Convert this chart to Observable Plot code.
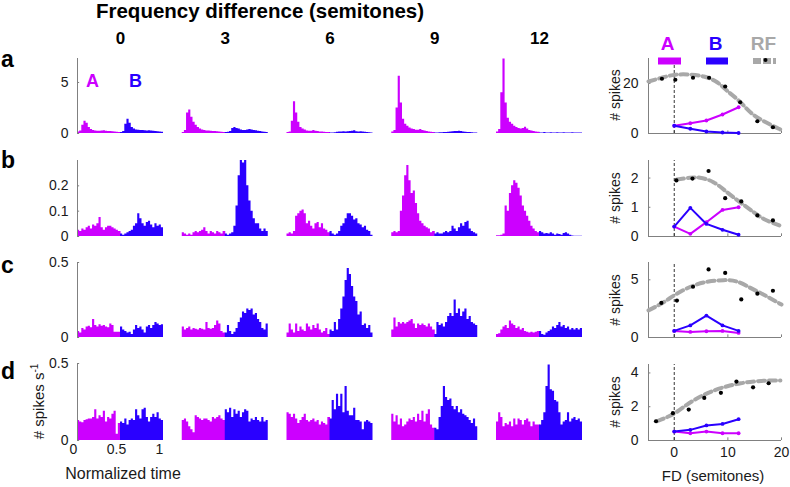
<!DOCTYPE html>
<html><head><meta charset="utf-8">
<script src="https://cdn.jsdelivr.net/npm/d3@7"></script>
<script src="https://cdn.jsdelivr.net/npm/@observablehq/plot@0.6"></script>
<style>
body{margin:0;background:#fff;}
#fig{position:relative;width:790px;height:487px;background:#fff;overflow:hidden;font-family:"Liberation Sans",Arial,Helvetica,sans-serif;}
#fig > svg{position:absolute;}
</style></head><body><div id="fig"></div>
<script>
// ---------- data ----------
const fd = [0, 3, 6, 9, 12];            // frequency difference (semitones), one PSTH column each
const psthParts = ["A", "B"];

// PSTH bin heights (20 bins for A half, 20 bins for B half), one array per FD column
const aA = [
 [0.15,0.25,0.8,1.2,1.0,0.6,0.4,0.3,0.25,0.22,0.22,0.25,0.28,0.22,0.2,0.2,0.18,0.15,0.12,0.1],
 [0.1,0.3,2.0,2.3,1.6,1.1,0.8,0.6,0.45,0.35,0.3,0.25,0.25,0.22,0.2,0.2,0.18,0.15,0.12,0.1],
 [0.1,0.15,1.2,3.1,2.0,1.1,0.6,0.45,0.35,0.25,0.22,0.22,0.3,0.22,0.2,0.15,0.15,0.12,0.1,0.1],
 [0.15,0.3,2.5,5.6,3.0,1.4,0.9,0.7,0.55,0.45,0.38,0.32,0.32,0.4,0.3,0.25,0.2,0.15,0.12,0.1],
 [0.15,0.4,4.0,7.3,3.0,1.5,1.1,0.9,0.7,0.6,0.5,0.45,0.5,0.62,0.45,0.3,0.25,0.2,0.15,0.12]
];
const aB = [
 [0.1,0.2,0.9,1.4,1.0,0.6,0.45,0.35,0.32,0.3,0.3,0.28,0.25,0.28,0.25,0.22,0.2,0.18,0.15,0.12],
 [0.1,0.12,0.2,0.5,0.6,0.5,0.45,0.35,0.3,0.3,0.35,0.4,0.35,0.3,0.28,0.22,0.2,0.15,0.12,0.1],
 [0.05,0.05,0.08,0.12,0.15,0.15,0.18,0.15,0.18,0.2,0.22,0.28,0.18,0.15,0.18,0.15,0.12,0.1,0.08,0.05],
 [0.05,0.05,0.08,0.08,0.1,0.1,0.12,0.15,0.18,0.2,0.2,0.22,0.2,0.15,0.12,0.1,0.1,0.08,0.06,0.05],
 [0.05,0.05,0.1,0.05,0.05,0.08,0.05,0.05,0.08,0.05,0.05,0.08,0.05,0.05,0.05,0.08,0.05,0.05,0.05,0.05]
];
const bA = [
 [0.025,0.02,0.03,0.025,0.035,0.04,0.03,0.045,0.04,0.05,0.075,0.035,0.025,0.035,0.04,0.04,0.035,0.03,0.025,0.02],
 [0.015,0.01,0.005,0.01,0.005,0.015,0.02,0.015,0.02,0.025,0.035,0.02,0.01,0.02,0.015,0.01,0.02,0.015,0.01,0.02],
 [0.01,0.015,0.01,0.02,0.08,0.09,0.1,0.105,0.09,0.05,0.06,0.04,0.03,0.05,0.055,0.035,0.05,0.03,0.025,0.015],
 [0.015,0.02,0.015,0.02,0.1,0.16,0.24,0.28,0.22,0.17,0.18,0.13,0.09,0.06,0.05,0.04,0.035,0.03,0.015,0.02],
 [0.003,0.003,0.005,0.01,0.12,0.1,0.17,0.2,0.22,0.21,0.19,0.16,0.12,0.1,0.08,0.06,0.04,0.03,0.02,0.015]
];
const bB = [
 [0.01,0.005,0.01,0.015,0.02,0.025,0.04,0.05,0.09,0.07,0.05,0.04,0.055,0.06,0.045,0.035,0.05,0.04,0.045,0.035],
 [0.01,0.005,0.01,0.015,0.04,0.12,0.24,0.3,0.29,0.3,0.2,0.14,0.1,0.07,0.05,0.05,0.03,0.02,0.03,0.02],
 [0.02,0.01,0.005,0.01,0.02,0.04,0.05,0.07,0.09,0.09,0.08,0.065,0.07,0.05,0.045,0.035,0.04,0.025,0.02,0.005],
 [0.01,0.015,0.01,0.01,0.015,0.02,0.015,0.02,0.04,0.03,0.02,0.035,0.05,0.04,0.055,0.06,0.03,0.02,0.015,0.01],
 [0.02,0.015,0.01,0.012,0.01,0.015,0.01,0.005,0.01,0.008,0.005,0.012,0.015,0.01,0.005,0.002,0.001,0.001,0.001,0.001]
];
const cA = [
 [0.04,0.03,0.06,0.05,0.07,0.075,0.065,0.12,0.08,0.07,0.085,0.075,0.08,0.07,0.065,0.09,0.08,0.035,0.035,0.035],
 [0.07,0.05,0.06,0.07,0.05,0.06,0.055,0.05,0.06,0.055,0.05,0.1,0.06,0.055,0.06,0.08,0.11,0.09,0.04,0.03],
 [0.03,0.09,0.05,0.03,0.09,0.04,0.07,0.05,0.04,0.09,0.07,0.05,0.08,0.06,0.09,0.05,0.03,0.04,0.06,0.02],
 [0.05,0.13,0.07,0.1,0.09,0.1,0.09,0.1,0.11,0.12,0.09,0.06,0.09,0.08,0.09,0.08,0.07,0.09,0.07,0.05],
 [0.02,0.025,0.05,0.07,0.08,0.06,0.11,0.09,0.08,0.06,0.07,0.05,0.06,0.04,0.035,0.03,0.035,0.03,0.035,0.04]
];
const cB = [
 [0.07,0.05,0.04,0.03,0.035,0.02,0.05,0.08,0.06,0.07,0.05,0.03,0.07,0.08,0.06,0.08,0.1,0.09,0.08,0.085],
 [0.03,0.08,0.04,0.02,0.035,0.06,0.1,0.13,0.17,0.16,0.19,0.18,0.19,0.15,0.16,0.12,0.1,0.06,0.05,0.09],
 [0.05,0.04,0.1,0.05,0.12,0.19,0.27,0.38,0.46,0.42,0.34,0.27,0.24,0.15,0.17,0.08,0.09,0.06,0.08,0.03],
 [0.02,0.1,0.08,0.09,0.07,0.1,0.14,0.16,0.14,0.25,0.16,0.19,0.14,0.17,0.19,0.12,0.14,0.1,0.09,0.08],
 [0.04,0.02,0.015,0.03,0.04,0.05,0.07,0.06,0.08,0.1,0.07,0.08,0.06,0.07,0.05,0.06,0.05,0.06,0.05,0.06]
];
const dA = [
 [0.13,0.12,0.115,0.13,0.135,0.14,0.14,0.15,0.2,0.14,0.16,0.15,0.19,0.12,0.15,0.14,0.17,0.19,0.04,0.11],
 [0.13,0.14,0.12,0.09,0.07,0.05,0.16,0.15,0.14,0.13,0.14,0.14,0.13,0.12,0.15,0.14,0.15,0.16,0.14,0.13],
 [0.18,0.17,0.15,0.17,0.14,0.11,0.13,0.15,0.17,0.13,0.12,0.13,0.14,0.12,0.13,0.1,0.12,0.11,0.1,0.15],
 [0.17,0.12,0.16,0.1,0.14,0.09,0.1,0.12,0.14,0.13,0.15,0.12,0.17,0.13,0.19,0.12,0.17,0.2,0.1,0.08],
 [0.12,0.18,0.15,0.09,0.11,0.1,0.12,0.09,0.14,0.1,0.14,0.13,0.1,0.13,0.14,0.12,0.09,0.12,0.1,0.1]
];
const dB = [
 [0.12,0.11,0.14,0.1,0.13,0.14,0.13,0.2,0.16,0.14,0.2,0.21,0.15,0.12,0.15,0.17,0.15,0.18,0.14,0.13],
 [0.2,0.18,0.21,0.15,0.2,0.17,0.19,0.15,0.18,0.2,0.19,0.12,0.14,0.13,0.15,0.13,0.12,0.15,0.12,0.13],
 [0.14,0.26,0.2,0.3,0.22,0.3,0.18,0.35,0.19,0.16,0.16,0.21,0.13,0.13,0.12,0.07,0.12,0.13,0.12,0.11],
 [0.08,0.07,0.15,0.22,0.35,0.28,0.26,0.27,0.22,0.2,0.22,0.18,0.2,0.17,0.16,0.15,0.13,0.11,0.14,0.09],
 [0.1,0.13,0.18,0.35,0.49,0.33,0.32,0.26,0.25,0.18,0.1,0.12,0.13,0.18,0.12,0.14,0.15,0.13,0.14,0.12]
];
const psthYTicksA = [0, 5], psthYTicksB = [0, 0.1, 0.2], psthYTicksC = [0, 0.5], psthYTicksD = [0, 0.5];
const timeTicks = [0, 0.5, 1];

// Right column: spike counts vs FD
const aCountA = [3.1, 4.1, 5.2, 7.6, 10.5], aCountB = [3.1, 1.9, 0.8, 0.4, 0.2];
const bCountA = [0.34, 0.09, 0.49, 0.91, 1.0], bCountB = [0.34, 0.98, 0.43, 0.23, 0.06];
const cCountA = [0.57, 0.48, 0.54, 0.57, 0.4], cCountB = [0.57, 1.05, 1.9, 1.05, 0.57];
const dCountA = [0.53, 0.43, 0.53, 0.43, 0.43], dCountB = [0.53, 0.63, 0.89, 0.98, 1.26];
// receptive field (black dots) and fitted RF (grey dashed)
const aRfX = [-2.3, 0.2, 3.5, 6.5, 9.5, 12.3, 15.5, 18.4], aRfY = [21.9, 21.5, 22.3, 22.3, 18.8, 12.5, 4.9, 2.5];
const bRfX = [0.4, 3.4, 6.4, 9.5, 12.5, 15.5, 18.4], bRfY = [1.92, 1.98, 2.24, 1.31, 1.2, 0.72, 0.55];
const cRfX = [-2.4, 0.5, 3.5, 6.4, 9.5, 12.5, 15.5, 18.4], cRfY = [3.0, 3.2, 4.4, 5.9, 5.6, 3.3, 3.8, 4.05];
const dRfX = [-3.4, -0.25, 2.7, 5.6, 8.7, 11.6, 14.7, 17.6], dRfY = [1.14, 1.62, 1.83, 2.52, 2.82, 3.49, 3.15, 3.39];
const aFitX = [-4.8, -2.0, 0.2, 2.7, 5.5, 8.0, 9.8, 12.0, 14.2, 16.7, 19.5, 20], aFitY = [20.8, 22.5, 23.5, 23.6, 22.8, 20.5, 17.2, 13.2, 8.5, 4.9, 1.9, 1.6];
const bFitX = [0.5, 2.9, 4.8, 7.3, 9.8, 12.3, 14.8, 16.7, 18.6, 19.6], bFitY = [1.95, 2.01, 2.01, 1.86, 1.52, 1.17, 0.83, 0.6, 0.45, 0.38];
const cFitX = [-4.8, -2, 0.5, 3.6, 6.4, 9.2, 11.7, 14.2, 16.7, 20], cFitY = [2.35, 3.05, 3.8, 4.5, 4.85, 4.97, 4.85, 4.3, 3.7, 2.85];
const dFitX = [-3.2, -0.1, 2.4, 4.9, 7.4, 9.9, 12.4, 14.9, 17.4, 19.8], dFitY = [1.14, 1.58, 2.13, 2.6, 2.96, 3.21, 3.39, 3.49, 3.55, 3.55];
const fdDomain = [-4.8, 20];
const fdTicks = [0, 10, 20];
const aCountTicks = [0, 20], bCountTicks = [0, 1, 2], cCountTicks = [0, 5], dCountTicks = [0, 2, 4];

// ---------- style ----------
const MAG = "#cc00ff", BLU = "#2a00ff", AXIS = "#808080", FIT = "#a8a8a8", TXT = "#1a1a1a";
const FONT = '"Liberation Sans", Arial, Helvetica, sans-serif';
const fig = document.getElementById("fig");
function place(svg, left, top) { svg.style.left = left + "px"; svg.style.top = top + "px"; fig.appendChild(svg); }

function psthData(A, B) {
  const out = [];
  fd.forEach((f, k) => {
    [[psthParts[0], A[k], 0], [psthParts[1], B[k], 0.5]].forEach(([p, vals, t0]) => {
      const w = 0.5 / vals.length;
      vals.forEach((v, i) => out.push({f, p, t: t0 + i * w, v}));
      // A's last step tucks slightly under B to avoid an anti-aliasing seam
      out.push({f, p, t: t0 + 0.5 + (p === psthParts[0] ? 0.006 : 0), v: vals[vals.length - 1]});
    });
  });
  return out;
}

const psthRows = [
  {A: aA, B: aB, ymax: 7.35, ticks: psthYTicksA, top: 0, mt: 58, ih: 75, mb: 5, header: true},
  {A: bA, B: bB, ymax: 0.3, ticks: psthYTicksB, top: 150, mt: 10, ih: 76, mb: 5},
  {A: cA, B: cB, ymax: 0.5, ticks: psthYTicksC, top: 252, mt: 10, ih: 75, mb: 5},
  {A: dA, B: dB, ymax: 0.5, ticks: psthYTicksD, top: 353, mt: 10, ih: 77, mb: 30, xticks: true}
];

psthRows.forEach(r => {
  const first = fd[0];
  const svg = Plot.plot({
    width: 587, height: r.mt + r.ih + r.mb,
    marginLeft: 77, marginRight: 5, marginTop: r.mt, marginBottom: r.mb,
    style: {fontFamily: FONT, fontSize: "14px", color: TXT, background: "transparent", overflow: "visible"},
    x: {domain: [0, 1], axis: null},
    y: {domain: [0, r.ymax], axis: null},
    fx: r.header ? {domain: fd, paddingInner: 0.179, paddingOuter: 0, round: false}
                 : {domain: fd, paddingInner: 0.179, paddingOuter: 0, round: false, axis: null},
    color: {domain: psthParts, range: [MAG, BLU]},
    marks: [
      Plot.areaY(psthData(r.A, r.B), {x: "t", y: "v", fx: "f", fill: "p", z: "p", curve: "step-after"}),
      Plot.ruleX([{f: first}], {fx: "f", x: () => 0, stroke: AXIS, strokeWidth: 1}),
      Plot.ruleY(r.ticks.map(v => ({f: first, v})), {fx: "f", y: "v", x1: 0, x2: 0.025, stroke: AXIS, strokeWidth: 1}),
      Plot.text(r.ticks.map(v => ({f: first, v})), {fx: "f", y: "v", text: d => String(d.v), frameAnchor: "left", textAnchor: "end", dx: -9, fontSize: 14, fill: TXT}),
      r.header ? Plot.axisFx({anchor: "top", tickSize: 0, tickPadding: 15, fontSize: 17, fontWeight: "bold", label: null, fill: "#000"}) : null,
      r.xticks ? Plot.text(timeTicks.map(t => ({f: first, t})), {fx: "f", x: "t", text: d => String(d.t), frameAnchor: "bottom", dy: 13, dx: -4, fontSize: 14, fill: TXT}) : null
    ]
  });
  place(svg, 0, r.top);
});

// ---------- right column ----------
const rightRows = [
  {cA: aCountA, cB: aCountB, rx: aRfX, ry: aRfY, fx: aFitX, fy: aFitY, ymax: 30, ticks: aCountTicks, top: 48, ih: 75, mb: 5},
  {cA: bCountA, cB: bCountB, rx: bRfX, ry: bRfY, fx: bFitX, fy: bFitY, ymax: 2.6, ticks: bCountTicks, top: 150, ih: 76, mb: 5},
  {cA: cCountA, cB: cCountB, rx: cRfX, ry: cRfY, fx: cFitX, fy: cFitY, ymax: 6.5, ticks: cCountTicks, top: 252, ih: 75, mb: 5},
  {cA: dCountA, cB: dCountB, rx: dRfX, ry: dRfY, fx: dFitX, fy: dFitY, ymax: 4.5, ticks: dCountTicks, top: 354, ih: 76, mb: 25, xlab: true}
];
rightRows.forEach(r => {
  const A = fd.map((x, i) => ({x, y: r.cA[i]}));
  const B = fd.map((x, i) => ({x, y: r.cB[i]}));
  const rf = r.rx.map((x, i) => ({x, y: r.ry[i]}));
  const fit = r.fx.map((x, i) => ({x, y: r.fy[i]}));
  const svg = Plot.plot({
    width: 200, height: 10 + r.ih + r.mb,
    marginLeft: 58, marginRight: 9, marginTop: 10, marginBottom: r.mb,
    style: {fontFamily: FONT, fontSize: "14px", color: TXT, background: "transparent", overflow: "visible"},
    x: {domain: fdDomain, axis: null},
    y: {domain: [0, r.ymax], axis: null},
    marks: [
      Plot.ruleY([0], {stroke: AXIS, strokeWidth: 1}),
      Plot.ruleX([fdDomain[0]], {stroke: AXIS, strokeWidth: 1}),
      Plot.ruleY(r.ticks, {x1: fdDomain[0], x2: fdDomain[0] + 0.45, stroke: AXIS}),
      Plot.ruleX(fdTicks, {y1: 0, y2: r.ymax * 0.035, stroke: AXIS}),
      Plot.ruleX([0], {y1: 0, y2: r.ymax, stroke: "#000", strokeWidth: 0.8, strokeDasharray: "3,2"}),
      Plot.line(fit, {x: "x", y: "y", curve: "natural", stroke: FIT, strokeWidth: 4, strokeDasharray: "7,4"}),
      Plot.dot(rf, {x: "x", y: "y", r: 2.1, fill: "#000"}),
      Plot.line(A, {x: "x", y: "y", stroke: MAG, strokeWidth: 2}),
      Plot.dot(A, {x: "x", y: "y", r: 1.9, fill: MAG}),
      Plot.line(B, {x: "x", y: "y", stroke: BLU, strokeWidth: 2}),
      Plot.dot(B, {x: "x", y: "y", r: 1.9, fill: BLU}),
      Plot.axisY({ticks: r.ticks, tickFormat: d => String(d), tickSize: 0, tickPadding: 10, fontSize: 14, label: null, fill: TXT}),
      r.xlab ? Plot.axisX({ticks: fdTicks, tickFormat: d => String(d), tickSize: 0, tickPadding: 7, fontSize: 14, label: null, fill: TXT}) : null
    ]
  });
  place(svg, 590, r.top);
});

// ---------- text labels ----------
const NS = "http://www.w3.org/2000/svg";
const ov = document.createElementNS(NS, "svg");
ov.setAttribute("width", 790); ov.setAttribute("height", 487);
ov.style.left = "0px"; ov.style.top = "0px"; ov.style.pointerEvents = "none";
ov.setAttribute("font-family", FONT);
const rowLetters = ["a", "b", "c", "d"], rowLetterY = [67, 168, 273, 378.5];
const spikeLabelY = [95, 198, 300, 402];
let html = `<text x="260" y="17.5" text-anchor="middle" font-size="20.5" font-weight="bold" fill="#000">Frequency difference (semitones)</text>`;
rowLetters.forEach((l, i) => { html += `<text x="1" y="${rowLetterY[i]}" font-size="23" font-weight="bold" fill="#000">${l}</text>`; });
spikeLabelY.forEach(y => { html += `<text transform="translate(620,${y}) rotate(-90)" text-anchor="middle" font-size="14" fill="${TXT}"># spikes</text>`; });
html += `<text x="92.5" y="87" text-anchor="middle" font-size="18" font-weight="bold" fill="${MAG}">A</text>`;
html += `<text x="135.5" y="87" text-anchor="middle" font-size="18" font-weight="bold" fill="${BLU}">B</text>`;
html += `<text x="667.5" y="50" text-anchor="middle" font-size="19" font-weight="bold" fill="${MAG}">A</text>`;
html += `<text x="715.5" y="50" text-anchor="middle" font-size="19" font-weight="bold" fill="${BLU}">B</text>`;
html += `<text x="763.5" y="50" text-anchor="middle" font-size="19" font-weight="bold" fill="${FIT}">RF</text>`;
html += `<line x1="658" x2="681" y1="61" y2="61" stroke="${MAG}" stroke-width="7"/>`;
html += `<line x1="706" x2="728" y1="61" y2="61" stroke="${BLU}" stroke-width="7"/>`;
html += `<line x1="753" x2="776" y1="61" y2="61" stroke="${FIT}" stroke-width="6" stroke-dasharray="8,2"/>`;
html += `<circle cx="765.5" cy="60" r="2" fill="#000"/>`;
html += `<text transform="translate(44,401.5) rotate(-90)" text-anchor="middle" font-size="15" fill="${TXT}"># spikes s<tspan dy="-6" font-size="10">-1</tspan></text>`;
html += `<text x="123" y="478.5" text-anchor="middle" font-size="16" fill="${TXT}">Normalized time</text>`;
html += `<text x="713" y="481" text-anchor="middle" font-size="15" fill="${TXT}">FD (semitones)</text>`;
ov.innerHTML = html;
fig.appendChild(ov);
</script></body></html>
